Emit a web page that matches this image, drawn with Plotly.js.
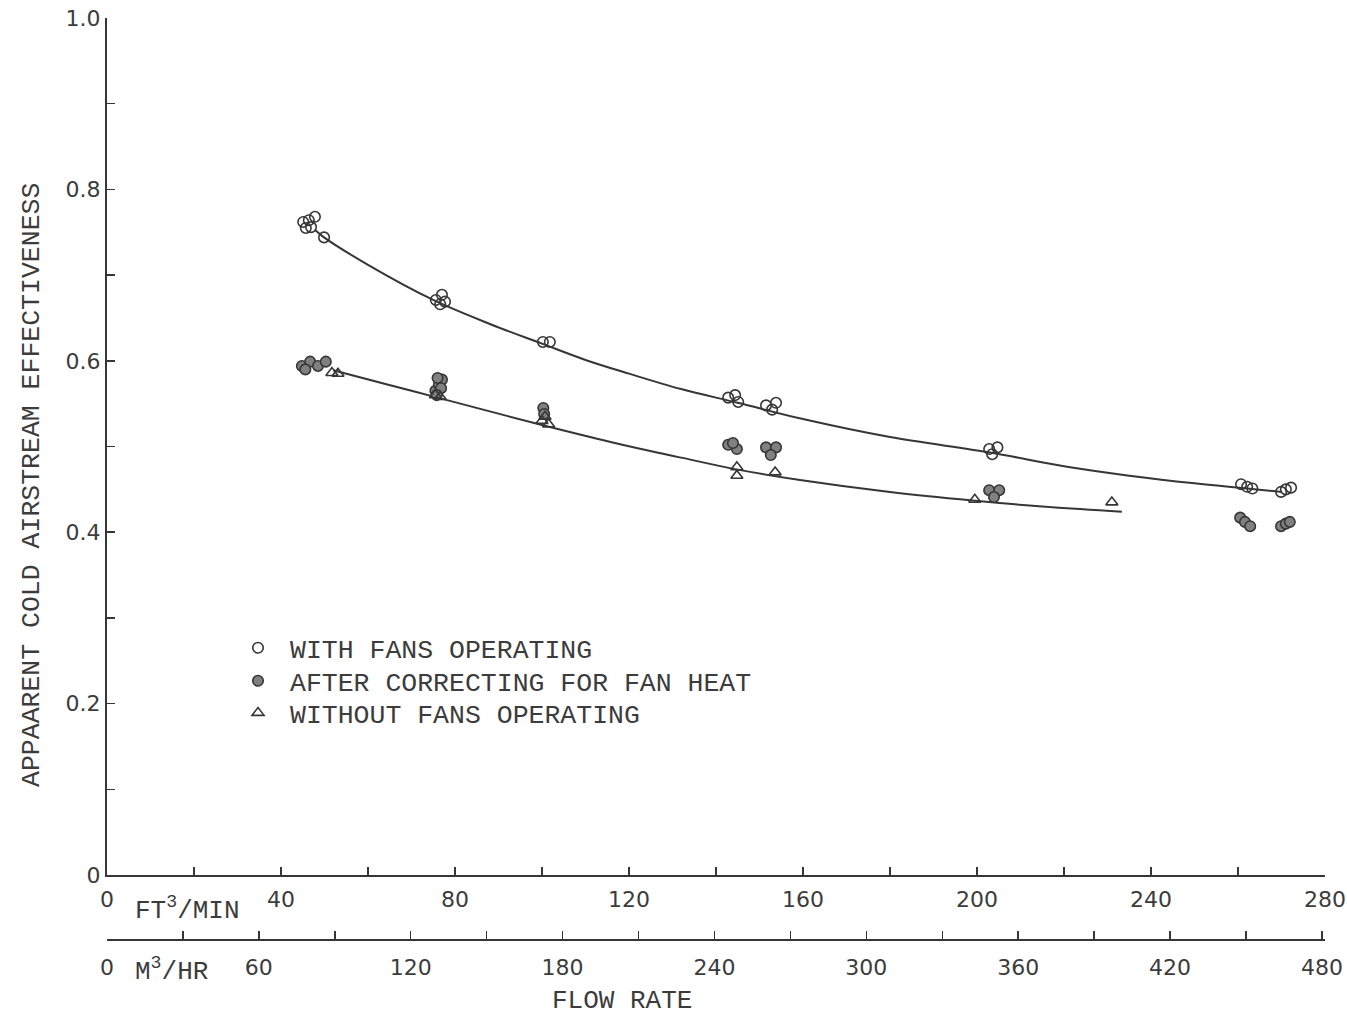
<!DOCTYPE html>
<html>
<head>
<meta charset="utf-8">
<script src="https://cdn.plot.ly/plotly-3.0.1.min.js"></script>
<style>html,body{margin:0;padding:0;background:#fff;}#chart{width:1347px;height:1016px;}</style>
</head>
<body>
<div id="chart"></div>
<script>
// ---- Data (flow rate in ft^3/min, effectiveness) ----
const withFansX = [45.1,46.4,47.8,45.7,46.9,49.9, 75.6,77.0,76.6,77.7, 100.2,101.8, 142.8,144.4,145.1, 151.5,153.8,152.9, 202.8,204.7,203.5, 260.7,262.1,263.3, 269.9,271.0,272.2];
const withFansY = [0.762,0.764,0.768,0.755,0.756,0.744, 0.671,0.677,0.666,0.669, 0.622,0.622, 0.557,0.560,0.552, 0.548,0.551,0.543, 0.497,0.499,0.491, 0.456,0.453,0.451, 0.447,0.450,0.452];

const correctedX = [44.8,46.7,48.5,45.6,50.3, 75.5,76.3,77.0,76.0,76.8,75.8, 100.3,100.5, 142.8,144.8,143.9, 151.5,153.8,152.6, 202.8,205.1,203.9, 260.5,261.6,262.8, 269.9,271.0,271.9];
const correctedY = [0.594,0.599,0.594,0.590,0.599, 0.565,0.572,0.578,0.580,0.568,0.560, 0.545,0.538, 0.502,0.497,0.504, 0.499,0.499,0.490, 0.449,0.449,0.441, 0.417,0.412,0.407, 0.407,0.410,0.412];

const withoutFansX = [51.7,53.1, 75.5,76.6, 100.0,101.5,100.7, 144.8,144.8, 153.6, 199.5, 231.0];
const withoutFansY = [0.586,0.585, 0.560,0.558, 0.530,0.526,0.535, 0.476,0.466, 0.470, 0.438, 0.435];

// fitted curves
const fitUpperX = [47.8,49.9,60,75,88,100,110,120,132,145,160,180,203,220,235,250,270];
const fitUpperY = [0.753,0.744,0.712,0.671,0.643,0.620,0.601,0.585,0.567,0.551,0.532,0.511,0.493,0.477,0.466,0.457,0.447];
const fitLowerX = [52,64,76,88,100,116,132,145,159.3,180,199,215,233.3];
const fitLowerY = [0.589,0.573,0.557,0.541,0.525,0.505,0.487,0.473,0.461,0.447,0.437,0.430,0.424];

// ticks
const ftTicks = [0,20,40,60,80,100,120,140,160,180,200,220,240,260,280];
const ftLabels = ['0','','40','','80','','120','','160','','200','','240','','280'];
const m3Ticks = [0,30,60,90,120,150,180,210,240,270,300,330,360,390,420,450,480];
const m3Labels = ['0','','60','','120','','180','','240','','300','','360','','420','','480'];
const yTicks = [0,0.1,0.2,0.3,0.4,0.5,0.6,0.7,0.8,0.9,1.0];
const yLabels = ['0','','0.2','','0.4','','0.6','','0.8','','1.0'];

const ink = '#363636';
const tickFont = {family: 'DejaVu Sans', size: 22, color: '#3c3c3c'};
const textFont = {family: 'Liberation Mono', size: 26, color: '#3c3c3c'};
const legendFont = {family: 'Liberation Mono', size: 26.5, color: '#3c3c3c'};
const titleFont = {family: 'Liberation Mono', size: 26.5, color: '#3c3c3c'};

const traces = [
  {x: fitUpperX, y: fitUpperY, mode: 'lines', line: {color: ink, width: 2, shape: 'spline', smoothing: 1}, showlegend: false, hoverinfo: 'skip'},
  {x: fitLowerX, y: fitLowerY, mode: 'lines', line: {color: ink, width: 2, shape: 'spline', smoothing: 1}, showlegend: false, hoverinfo: 'skip'},
  {x: withFansX, y: withFansY, mode: 'markers', name: 'WITH FANS OPERATING', legend: 'legend',
   marker: {symbol: 'circle-open', size: 10.5, color: ink, line: {width: 1.6, color: ink}}},
  {x: correctedX, y: correctedY, mode: 'markers', name: 'AFTER CORRECTING FOR FAN HEAT', legend: 'legend2',
   marker: {symbol: 'circle', size: 10.5, color: '#808080', line: {width: 1.6, color: ink}}},
  {x: withoutFansX, y: withoutFansY, mode: 'markers', name: 'WITHOUT FANS OPERATING', legend: 'legend3',
   marker: {symbol: 'triangle-up-open', size: 10.5, color: ink, line: {width: 1.6, color: ink}}},
  {x: m3Ticks, y: m3Ticks.map(() => null), xaxis: 'x2', yaxis: 'y', mode: 'markers', showlegend: false, hoverinfo: 'skip'}
];

function legendAt(y) {
  return {x: 0.0977, y: y, xanchor: 'left', yanchor: 'top', font: legendFont, bgcolor: 'rgba(0,0,0,0)', itemwidth: 54};
}

const layout = {
  width: 1347, height: 1016,
  margin: {l: 107, r: 22, t: 18, b: 76},
  paper_bgcolor: '#fff', plot_bgcolor: '#fff',
  showlegend: true,
  legend: legendAt(0.3427),
  legend2: legendAt(0.3069),
  legend3: legendAt(0.2722),
  xaxis: {
    range: [0, 280], domain: [0, 1], anchor: 'y',
    tickmode: 'array', tickvals: ftTicks, ticktext: ftLabels,
    ticks: 'inside', ticklen: 8, tickwidth: 1.5, tickcolor: ink, ticklabelstandoff: 4,
    showline: true, linecolor: ink, linewidth: 2, showgrid: false, zeroline: false,
    tickfont: tickFont
  },
  xaxis2: {
    range: [0, 481.2], domain: [0, 1], anchor: 'free', position: 0, overlaying: 'x', side: 'bottom',
    tickmode: 'array', tickvals: m3Ticks, ticktext: m3Labels,
    ticks: 'inside', ticklen: 8, tickwidth: 1.5, tickcolor: ink, ticklabelstandoff: 8,
    showline: true, linecolor: ink, linewidth: 2, showgrid: false, zeroline: false,
    tickfont: tickFont
  },
  yaxis: {
    range: [0, 1.0], domain: [0.0705, 1],
    tickmode: 'array', tickvals: yTicks, ticktext: yLabels,
    ticks: 'inside', ticklen: 8, tickwidth: 1.5, tickcolor: ink,
    showline: true, linecolor: ink, linewidth: 2, showgrid: false, zeroline: false,
    tickfont: tickFont
  },
  annotations: [
    {text: 'FT<sup>3</sup>/MIN', xref: 'paper', yref: 'paper', x: 0.021, y: 0.034, xanchor: 'left', yanchor: 'middle', showarrow: false, font: textFont},
    {text: 'M<sup>3</sup>/HR', xref: 'paper', yref: 'paper', x: 0.021, y: -0.033, xanchor: 'left', yanchor: 'middle', showarrow: false, font: textFont},
    {text: 'FLOW RATE', xref: 'paper', yref: 'paper', x: 0.423, y: -0.066, xanchor: 'center', yanchor: 'middle', showarrow: false, font: textFont},
    {text: 'APPAARENT COLD AIRSTREAM EFFECTIVENESS', xref: 'paper', yref: 'paper', x: -0.0616, y: 0.4935, xanchor: 'center', yanchor: 'middle', textangle: -90, showarrow: false, font: titleFont}
  ]
};

Plotly.newPlot('chart', traces, layout, {displayModeBar: false, staticPlot: true});
</script>
</body>
</html>
